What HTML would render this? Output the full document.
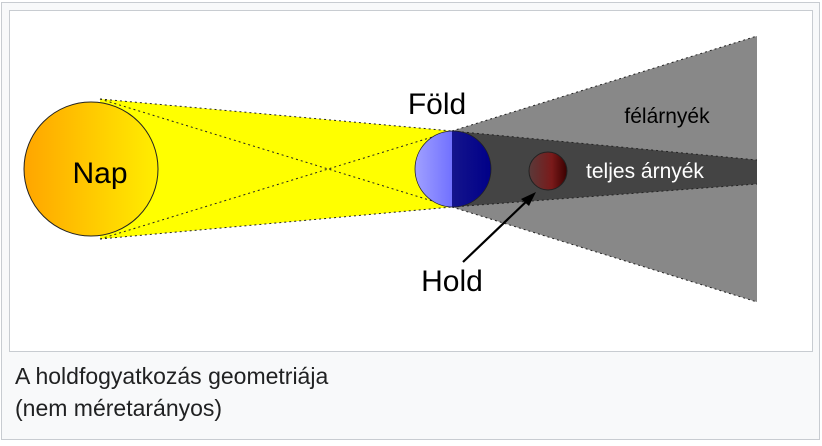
<!DOCTYPE html>
<html><head><meta charset="utf-8"><style>
html,body{margin:0;padding:0;background:#fff;}
body{width:822px;height:446px;position:relative;overflow:hidden;font-family:"Liberation Sans",sans-serif;}
.outer{position:absolute;left:1px;top:2px;width:817px;height:436px;border:1px solid #c8ccd1;background:#f8f9fa;}
.inner{position:absolute;left:9px;top:10px;width:802px;height:340px;border:1px solid #c8ccd1;background:#fff;}
.cap{position:absolute;left:15px;font-size:23px;line-height:27px;color:#202122;white-space:nowrap;}
</style></head><body>
<div class="outer"></div>
<div class="inner"></div>
<svg style="position:absolute;left:0;top:0" width="822" height="446">
<defs>
<linearGradient id="sun" x1="0" x2="1"><stop offset="0" stop-color="#ffa500"/><stop offset="1" stop-color="#ffee00"/></linearGradient>
<linearGradient id="el" x1="0" x2="1"><stop offset="0" stop-color="#a0a0ff"/><stop offset="1" stop-color="#4040ff"/></linearGradient>
<linearGradient id="er" x1="0" x2="1"><stop offset="0" stop-color="#282890"/><stop offset="1" stop-color="#000088"/></linearGradient>
<linearGradient id="moon" x1="0" x2="1"><stop offset="0" stop-color="#5a3a3a"/><stop offset="0.6" stop-color="#7a1a1a"/><stop offset="1" stop-color="#3a0000"/></linearGradient>
<clipPath id="lh"><rect x="400" y="100" width="52" height="120"/></clipPath>
<clipPath id="rh"><rect x="452" y="100" width="60" height="120"/></clipPath>
</defs>
<polygon points="100,99 452,131 452,207 100,239" fill="#ffff00"/>
<polygon points="452,131 757,36 757,302 452,207" fill="#888"/>
<polygon points="452,131 757,160 757,184 452,207" fill="#444"/>
<g stroke="#222" stroke-width="1" stroke-dasharray="2,3" fill="none">
<line x1="100" y1="99" x2="452" y2="131"/><line x1="100" y1="239" x2="452" y2="207"/>
<line x1="100" y1="99" x2="452" y2="207"/><line x1="100" y1="239" x2="452" y2="131"/>
<line x1="452" y1="131" x2="757" y2="36"/><line x1="452" y1="207" x2="757" y2="302"/>
<line x1="452" y1="131" x2="757" y2="160"/><line x1="452" y1="207" x2="757" y2="184"/>
</g>
<circle cx="91" cy="169" r="67" fill="url(#sun)" stroke="#222" stroke-width="1"/>
<circle cx="453" cy="169" r="38" fill="url(#el)" clip-path="url(#lh)"/>
<circle cx="453" cy="169" r="38" fill="url(#er)" clip-path="url(#rh)"/>
<circle cx="453" cy="169" r="38" fill="none" stroke="#222" stroke-width="0.8"/>
<circle cx="548" cy="171" r="19" fill="url(#moon)" stroke="#222" stroke-width="1"/>
<line x1="463" y1="262" x2="530" y2="198" stroke="#000" stroke-width="2.2"/>
<polygon points="536,192 521,199 529,206" fill="#000"/>
<g font-family="Liberation Sans, sans-serif">
<text x="100" y="183" font-size="30" text-anchor="middle">Nap</text>
<text x="437" y="114" font-size="30" text-anchor="middle">Föld</text>
<text x="452" y="291" font-size="30" text-anchor="middle">Hold</text>
<text x="667" y="123" font-size="21" text-anchor="middle">félárnyék</text>
<text x="645" y="178" font-size="21" text-anchor="middle" fill="#fff">teljes árnyék</text>
</g>
</svg>
<div class="cap" style="top:363px">A holdfogyatkozás geometriája</div>
<div class="cap" style="top:395px">(nem méretarányos)</div>
</body></html>
